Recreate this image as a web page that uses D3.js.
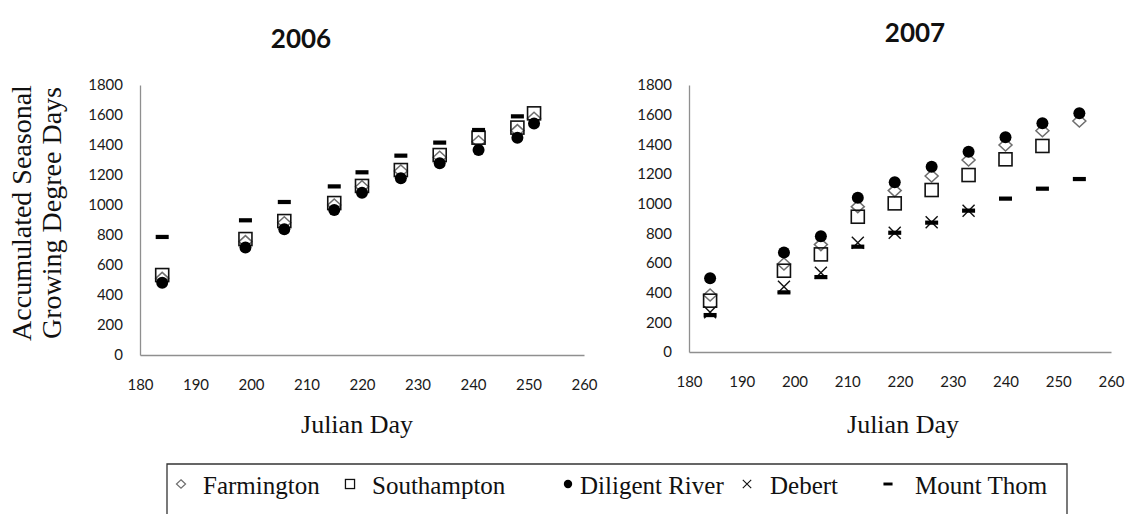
<!DOCTYPE html>
<html>
<head>
<meta charset="utf-8">
<script src="https://cdn.jsdelivr.net/npm/d3@7"></script>
<style>
  html, body { margin: 0; padding: 0; background: #fff; }
  svg { display: block; }
  .tick text { font-family: Lato, "Open Sans", sans-serif; font-size: 15px; fill: #1a1a1a; }
  .axis path { stroke: #8f8f8f; stroke-width: 1.3px; }
  .title { font-family: Lato, "Open Sans", sans-serif; font-weight: bold; font-size: 26px; fill: #111; }
  .serif { font-family: "Liberation Serif", "DejaVu Serif", serif; fill: #111; }
</style>
</head>
<body>
<svg id="chart" width="1135" height="514"></svg>
<script>
// Julian days of each sampling date
const days2006 = [184, 199, 206, 215, 220, 227, 234, 241, 248, 251];
const days2007 = [184, 198, 205, 212, 219, 226, 233, 240, 247, 254];

// Accumulated seasonal growing degree days, 2006
const farmington2006  = [511, 756, 882, 1000, 1122, 1227, 1318, 1422, 1496, 1578];
const southampton2006 = [533, 773, 893, 1013, 1127, 1233, 1333, 1449, 1516, 1611];
const diligent2006    = [482, 716, 838, 967, 1082, 1178, 1278, 1367, 1449, 1544];
const debert2006      = [null, null, null, null, null, null, null, null, null, null];
const mountThom2006   = [787, 898, 1020, 1124, 1218, 1329, 1416, 1500, 1591, null];

// Accumulated seasonal growing degree days, 2007
const farmington2007  = [384, 593, 724, 980, 1088, 1187, 1294, 1396, 1492, 1557];
const southampton2007 = [346, 548, 658, 912, 1002, 1092, 1193, 1299, 1389, null];
const diligent2007    = [497, 670, 780, 1040, 1144, 1249, 1350, 1447, 1542, 1609];
const debert2007      = [268, 440, 534, 737, 804, 874, 953, null, null, null];
const mountThom2007   = [249, 402, 505, 710, 804, 872, 953, 1034, 1101, 1166];

// Axis ticks
const xTicks = [180, 190, 200, 210, 220, 230, 240, 250, 260];
const yTicks = [0, 200, 400, 600, 800, 1000, 1200, 1400, 1600, 1800];

const siteNames = ["Farmington", "Southampton", "Diligent River", "Debert", "Mount Thom"];
const siteShapes = ["diamond", "square", "circle", "cross", "dash"];

const svg = d3.select("#chart");

// Draw one marker of the given shape at (0,0) inside group g, scaled by k
function drawMarker(g, shape, k) {
  if (shape === "diamond") {
    g.append("path")
      .attr("d", `M0,${-6 * k}L${6.5 * k},0L0,${6 * k}L${-6.5 * k},0Z`)
      .attr("fill", "none").attr("stroke", "#6e6e6e").attr("stroke-width", 1.5 * Math.max(k, 0.8));
  } else if (shape === "square") {
    g.append("rect")
      .attr("x", -6.5 * k).attr("y", -6.5 * k).attr("width", 13 * k).attr("height", 13 * k)
      .attr("fill", "none").attr("stroke", "#111").attr("stroke-width", 1.6 * Math.max(k, 0.8));
  } else if (shape === "circle") {
    g.append("circle").attr("r", 6 * k).attr("fill", "#000");
  } else if (shape === "cross") {
    const s = 6 * k;
    g.append("path")
      .attr("d", `M${-s},${-s}L${s},${s}M${s},${-s}L${-s},${s}`)
      .attr("fill", "none").attr("stroke", "#111").attr("stroke-width", 1.4 * Math.max(k, 0.8));
  } else if (shape === "dash") {
    g.append("rect")
      .attr("x", -6.5 * k).attr("y", -2.1 * Math.max(k, 0.6)).attr("width", 13 * k).attr("height", 4.2 * Math.max(k, 0.6))
      .attr("fill", "#000");
  }
}

function panel(cfg) {
  const x = d3.scaleLinear().domain([180, 260]).range([cfg.left, cfg.right]);
  const y = d3.scaleLinear().domain([0, 1800]).range([cfg.bottom, cfg.top]);

  svg.append("g").attr("class", "axis")
    .attr("transform", `translate(0,${cfg.bottom})`)
    .call(d3.axisBottom(x).tickValues(xTicks).tickSize(0).tickPadding(24).tickFormat(d3.format("d")))
    .call(g => g.selectAll(".tick text").attr("dy", "0.71em"));

  svg.append("g").attr("class", "axis")
    .attr("transform", `translate(${cfg.left},0)`)
    .call(d3.axisLeft(y).tickValues(yTicks).tickSize(0).tickPadding(17).tickFormat(d3.format("d")));

  svg.append("text").attr("class", "title")
    .attr("x", cfg.titleX).attr("y", cfg.titleY).attr("text-anchor", "middle")
    .text(cfg.title);

  svg.append("text").attr("class", "serif")
    .attr("x", (cfg.left + cfg.right) / 2 + cfg.xLabelShift).attr("y", 433)
    .attr("text-anchor", "middle").style("font-size", "26px")
    .text("Julian Day");

  const marks = svg.append("g");
  cfg.series.forEach((vals, si) => {
    vals.forEach((v, i) => {
      if (v == null) return;
      const g = marks.append("g").attr("transform", `translate(${x(cfg.days[i])},${y(v)})`);
      drawMarker(g, siteShapes[si], 1);
    });
  });
}

panel({
  title: "2006", titleX: 301, titleY: 48,
  left: 140, right: 584, top: 85, bottom: 355, xLabelShift: -5,
  days: days2006,
  series: [farmington2006, southampton2006, diligent2006, debert2006, mountThom2006]
});

panel({
  title: "2007", titleX: 915, titleY: 42,
  left: 689, right: 1111, top: 85, bottom: 352, xLabelShift: 3,
  days: days2007,
  series: [farmington2007, southampton2007, diligent2007, debert2007, mountThom2007]
});

// Shared y-axis title
const yTitle = svg.append("text").attr("class", "serif")
  .attr("transform", "translate(0,213) rotate(-90)")
  .attr("text-anchor", "middle").style("font-size", "28px");
yTitle.append("tspan").attr("x", 0).attr("y", 31).text("Accumulated Seasonal");
yTitle.append("tspan").attr("x", 0).attr("y", 61).text("Growing Degree Days");

// Legend box with symbols and site names
const legend = svg.append("g");
legend.append("path")
  .attr("d", "M167,520V464H1067V520")
  .attr("fill", "none").attr("stroke", "#333").attr("stroke-width", 1.3);

const legendSymbolX = [181, 350, 568, 747, 888];
const legendTextX = [203, 372, 580, 770, 915];
siteNames.forEach((name, i) => {
  const g = legend.append("g").attr("transform", `translate(${legendSymbolX[i]},484)`);
  drawMarker(g, siteShapes[i], 0.7);
  legend.append("text").attr("class", "serif")
    .attr("x", legendTextX[i]).attr("y", 494).style("font-size", "25px")
    .text(name);
});
</script>
</body>
</html>
